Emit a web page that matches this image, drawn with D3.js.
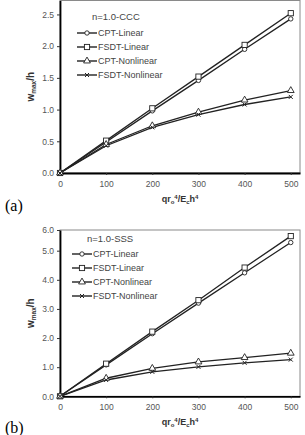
<!DOCTYPE html>
<html>
<head>
<meta charset="utf-8">
<script src="https://cdn.jsdelivr.net/npm/d3@7"></script>
<style>
  html, body { margin: 0; padding: 0; background: #fff; }
  svg { display: block; font-family: "Liberation Sans", Arial, sans-serif; }
</style>
</head>
<body>
<svg id="chart" width="305" height="435"></svg>
<script>
// --- data ---
const loads = [0, 100, 200, 300, 400, 500];
const seriesNames = ["CPT-Linear", "FSDT-Linear", "CPT-Nonlinear", "FSDT-Nonlinear"];
const markerKinds = ["circle", "square", "triangle", "cross"];

// (a) n=1.0-CCC
const cccCptLinear = [0, 0.49, 0.98, 1.46, 1.95, 2.43];
const cccFsdtLinear = [0, 0.51, 1.02, 1.52, 2.02, 2.52];
const cccCptNonlinear = [0, 0.45, 0.745, 0.96, 1.15, 1.30];
const cccFsdtNonlinear = [0, 0.43, 0.72, 0.92, 1.08, 1.20];

// (b) n=1.0-SSS
const sssCptLinear = [0, 1.08, 2.15, 3.20, 4.24, 5.28];
const sssFsdtLinear = [0, 1.12, 2.22, 3.30, 4.42, 5.50];
const sssCptNonlinear = [0, 0.62, 0.96, 1.18, 1.33, 1.48];
const sssFsdtNonlinear = [0, 0.56, 0.84, 1.01, 1.15, 1.26];

const xTicks = [0, 100, 200, 300, 400, 500];
const cccYTicks = [0, 0.5, 1.0, 1.5, 2.0, 2.5];
const cccYLabels = ["0.0", "0.5", "1.0", "1.5", "2.0", "2.5"];
const sssYTicks = [0, 1, 2, 3, 4, 5, 5.71];
const sssYLabels = ["0.0", "1.0", "2.0", "3.0", "4.0", "5.0", "6.0"];

const svg = d3.select("#chart");
const ink = "#222";

function drawMarker(g, kind, x, y) {
    if (kind === "circle") {
        g.append("circle").attr("cx", x).attr("cy", y).attr("r", 2.2)
            .attr("fill", "#fff").attr("stroke", ink).attr("stroke-width", 0.9);
    } else if (kind === "square") {
        g.append("rect").attr("x", x - 2.6).attr("y", y - 2.6).attr("width", 5.2).attr("height", 5.2)
            .attr("fill", "#fff").attr("stroke", ink).attr("stroke-width", 0.9);
    } else if (kind === "triangle") {
        g.append("path").attr("d", d3.symbol().type(d3.symbolTriangle).size(20)())
            .attr("transform", `translate(${x},${y})`)
            .attr("fill", "#fff").attr("stroke", ink).attr("stroke-width", 0.9);
    } else {
        g.append("path").attr("d", `M${x - 2},${y - 2}L${x + 2},${y + 2}M${x - 2},${y + 2}L${x + 2},${y - 2}`)
            .attr("fill", "none").attr("stroke", ink).attr("stroke-width", 1);
    }
}

function drawPanel(p) {
    const x = d3.scaleLinear().domain([0, 520]).range([60, 300]);
    const y = d3.scaleLinear().domain([0, p.yMax]).range([p.bottom, p.top]);
    const g = svg.append("g");

    // frame (top and right, grey)
    g.append("rect").attr("x", 60).attr("y", p.top).attr("width", 240).attr("height", p.bottom - p.top)
        .attr("fill", "none").attr("stroke", "#8a8a8a").attr("stroke-width", 1);

    // axes
    const yAxis = d3.axisLeft(y).tickValues(p.yTicks).tickFormat((d, i) => p.yLabels[i])
        .tickSizeInner(3).tickSizeOuter(0).tickPadding(3);
    const gy = g.append("g").attr("transform", "translate(60,0)").call(yAxis);
    const xAxis = d3.axisBottom(x).tickValues(xTicks).tickSizeInner(2).tickSizeOuter(0).tickPadding(6);
    const gx = g.append("g").attr("transform", `translate(0,${p.bottom})`).call(xAxis);
    [gx, gy].forEach(a => {
        a.select(".domain").attr("stroke", "#000").attr("stroke-width", 1.8);
        a.selectAll(".tick line").attr("stroke", "#333");
        a.selectAll(".tick text").attr("fill", "#555").attr("font-size", 8.5)
            .attr("font-family", "Liberation Sans, Arial, sans-serif");
    });

    // series
    const line = d3.line().x((d, i) => x(loads[i])).y(d => y(d));
    p.series.forEach(vals => {
        g.append("path").datum(vals).attr("d", line)
            .attr("fill", "none").attr("stroke", ink).attr("stroke-width", 1.3);
    });
    p.series.forEach((vals, s) => {
        vals.forEach((v, i) => drawMarker(g, markerKinds[s], x(loads[i]), y(v)));
    });

    // legend
    g.append("text").attr("x", p.legX + 15).attr("y", p.legTitleY).attr("font-size", 9.5)
        .attr("fill", "#444").text(p.title);
    seriesNames.forEach((name, s) => {
        const ly = p.legY + s * 14;
        g.append("line").attr("x1", p.legX).attr("x2", p.legX + 20).attr("y1", ly).attr("y2", ly)
            .attr("stroke", ink).attr("stroke-width", 1.4);
        drawMarker(g, markerKinds[s], p.legX + 10, ly);
        g.append("text").attr("x", p.legX + 21).attr("y", ly + 3.2).attr("font-size", 9)
            .attr("fill", "#444").text(name);
    });

    // y axis title
    const yt = g.append("text")
        .attr("transform", `translate(34,${(p.top + p.bottom) / 2}) rotate(-90)`)
        .attr("text-anchor", "middle").attr("font-size", 10).attr("font-weight", "bold").attr("fill", "#333");
    yt.append("tspan").text("w");
    yt.append("tspan").attr("font-size", 6.5).attr("dy", 2).text("max");
    yt.append("tspan").attr("dy", -2).text("/h");

    // x axis title
    const xt = g.append("text").attr("x", 180).attr("y", p.bottom + 29)
        .attr("text-anchor", "middle").attr("font-size", 9).attr("font-weight", "bold").attr("fill", "#333");
    xt.append("tspan").text("qr");
    xt.append("tspan").attr("font-size", 6).attr("dy", 1.5).text("o");
    xt.append("tspan").attr("font-size", 6).attr("dy", -5).text("4");
    xt.append("tspan").attr("dy", 3.5).text("/E");
    xt.append("tspan").attr("font-size", 6).attr("dy", 1.5).text("c");
    xt.append("tspan").attr("dy", -1.5).text("h");
    xt.append("tspan").attr("font-size", 6).attr("dy", -3.5).text("4");

    // panel tag
    svg.append("text").attr("x", 5).attr("y", p.tagY).attr("font-size", 16)
        .attr("font-family", "Liberation Serif, Times New Roman, serif").attr("fill", "#000").text(p.tag);
}

drawPanel({
    top: 0.5, bottom: 173, yMax: 2.72,
    yTicks: cccYTicks, yLabels: cccYLabels,
    series: [cccCptLinear, cccFsdtLinear, cccCptNonlinear, cccFsdtNonlinear],
    title: "n=1.0-CCC", legX: 77, legTitleY: 20, legY: 33,
    tag: "(a)", tagY: 211
});

drawPanel({
    top: 230, bottom: 396.3, yMax: 5.71,
    yTicks: sssYTicks, yLabels: sssYLabels,
    series: [sssCptLinear, sssFsdtLinear, sssCptNonlinear, sssFsdtNonlinear],
    title: "n=1.0-SSS", legX: 72, legTitleY: 242, legY: 254,
    tag: "(b)", tagY: 433
});
</script>
</body>
</html>
